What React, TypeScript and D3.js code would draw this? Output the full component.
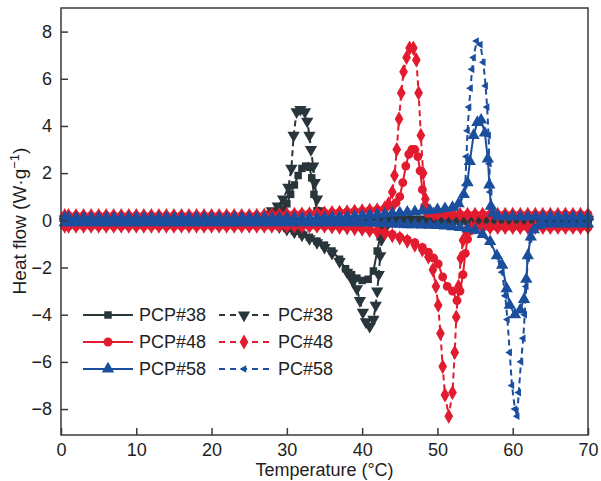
import React, { useEffect, useRef } from 'react';
import * as d3 from 'd3';

type Pt = [number, number];

const xTicks = [0, 10, 20, 30, 40, 50, 60, 70];
const yTicks = [-8, -6, -4, -2, 0, 2, 4, 6, 8];

// PCP#38 / PC#38
const pcp38Cool: Pt[] = [
  [0.5, 0.05], [1, 0.05], [2, 0.05], [3, 0.05], [4, 0.05], [5, 0.05], [6, 0.05], [7, 0.05], [8, 0.05], [9, 0.05],
  [10, 0.05], [11, 0.05], [12, 0.05], [13, 0.05], [14, 0.05], [15, 0.05], [16, 0.05], [17, 0.05], [18, 0.05], [19, 0.05],
  [20, 0.05], [21, 0.05], [22, 0.05], [23, 0.05], [24, 0.05], [25, 0.06], [26, 0.08], [27, 0.1], [28, 0.16], [28.5, 0.22],
  [29, 0.3], [29.5, 0.45], [30, 0.7], [30.5, 1.1], [31, 1.5], [31.5, 1.9], [32, 2.2], [32.5, 2.3], [33, 2.25], [33.3, 1.8],
  [33.6, 1.1], [34, 0.4], [34.5, 0.15], [35, 0.08], [36, 0.04], [37, 0.04], [38, 0.04], [39, 0.04], [40, 0.04], [41, 0.04],
  [42, 0.04], [43, 0.04], [44, 0.04], [45, 0.04], [46, 0.04], [47, 0.04], [48, 0.04], [49, 0.04], [50, 0.04], [51, 0.04],
  [52, 0.04], [53, 0.04], [54, 0.04], [55, 0.04], [56, 0.04], [57, 0.04], [58, 0.04], [59, 0.04], [60, 0.04], [61, 0.04],
  [62, 0.04], [63, 0.04], [64, 0.04], [65, 0.04], [66, 0.04], [67, 0.04], [68, 0.04], [69, 0.04], [70, 0.04],
];
const pc38Cool: Pt[] = [
  [0.5, 0.05], [1, 0.05], [2, 0.05], [3, 0.05], [4, 0.05], [5, 0.05], [6, 0.05], [7, 0.05], [8, 0.05], [9, 0.05],
  [10, 0.05], [11, 0.05], [12, 0.05], [13, 0.05], [14, 0.05], [15, 0.05], [16, 0.05], [17, 0.05], [18, 0.05], [19, 0.05],
  [20, 0.05], [21, 0.05], [22, 0.05], [23, 0.05], [24, 0.05], [25, 0.07], [26, 0.1], [27, 0.15], [27.5, 0.25], [28, 0.4],
  [28.8, 0.6], [29.5, 0.9], [30.2, 1.4], [30.6, 2.2], [30.9, 3.6], [31.3, 4.6], [31.8, 4.7], [32.4, 4.6], [32.7, 4.2], [33, 3.6],
  [33.2, 3.0], [33.5, 2.3], [33.7, 1.6], [34, 0.9], [34.3, 0.4], [34.7, 0.15], [35.5, 0.08], [36, 0.04], [37, 0.04], [38, 0.04],
  [39, 0.04], [40, 0.04], [41, 0.04], [42, 0.04], [43, 0.04], [44, 0.04], [45, 0.04], [46, 0.04], [47, 0.04], [48, 0.04],
  [49, 0.04], [50, 0.04], [51, 0.04], [52, 0.04], [53, 0.04], [54, 0.04], [55, 0.04], [56, 0.04], [57, 0.04], [58, 0.04],
  [59, 0.04], [60, 0.04], [61, 0.04], [62, 0.04], [63, 0.04], [64, 0.04], [65, 0.04], [66, 0.04], [67, 0.04], [68, 0.04],
  [69, 0.04], [70, 0.04],
];
const pcp38Heat: Pt[] = [
  [0.5, -0.05], [1, -0.05], [2, -0.05], [3, -0.05], [4, -0.05], [5, -0.05], [6, -0.05], [7, -0.05], [8, -0.05], [9, -0.05],
  [10, -0.05], [11, -0.05], [12, -0.05], [13, -0.05], [14, -0.05], [15, -0.05], [16, -0.05], [17, -0.05], [18, -0.05], [19, -0.05],
  [20, -0.05], [21, -0.05], [22, -0.05], [23, -0.05], [24, -0.05], [25, -0.08], [26, -0.1], [27, -0.14], [28, -0.19], [29, -0.26],
  [30, -0.35], [31, -0.46], [32, -0.58], [33, -0.72], [34, -0.88], [35, -1.05], [36, -1.3], [37, -1.65], [37.8, -2.05], [38.6, -2.3],
  [39.3, -2.45], [40, -2.55], [40.8, -2.5], [41.5, -2.15], [42, -1.3], [42.4, -0.7], [42.8, -0.35], [43.3, -0.15], [44, -0.05], [45, -0.05],
  [46, -0.05], [47, -0.05], [48, -0.05], [49, -0.05], [50, -0.05], [51, -0.05], [52, -0.05], [53, -0.05], [54, -0.05], [55, -0.05],
  [56, -0.05], [57, -0.05], [58, -0.05], [59, -0.05], [60, -0.05], [61, -0.05], [62, -0.05], [63, -0.05], [64, -0.05], [65, -0.05],
  [66, -0.05], [67, -0.05], [68, -0.05], [69, -0.05], [70, -0.05],
];
const pc38Heat: Pt[] = [
  [0.5, -0.05], [1, -0.05], [2, -0.05], [3, -0.05], [4, -0.05], [5, -0.05], [6, -0.05], [7, -0.05], [8, -0.05], [9, -0.05],
  [10, -0.05], [11, -0.05], [12, -0.05], [13, -0.05], [14, -0.05], [15, -0.05], [16, -0.05], [17, -0.05], [18, -0.05], [19, -0.05],
  [20, -0.05], [21, -0.05], [22, -0.05], [23, -0.05], [24, -0.05], [25, -0.08], [26, -0.11], [27, -0.15], [28, -0.2], [29, -0.28],
  [30, -0.38], [31, -0.5], [32, -0.63], [33, -0.78], [34, -0.95], [35, -1.15], [36, -1.4], [37, -1.75], [38, -2.2], [38.8, -2.6],
  [39.3, -2.9], [39.7, -3.4], [40.1, -3.9], [40.5, -4.3], [41, -4.5], [41.5, -4.2], [41.8, -3.6], [42, -3.0], [42.2, -2.3], [42.4, -1.5],
  [42.6, -0.8], [42.9, -0.4], [43.4, -0.15], [44, -0.05], [45, -0.05], [46, -0.05], [47, -0.05], [48, -0.05], [49, -0.05], [50, -0.05],
  [51, -0.05], [52, -0.05], [53, -0.05], [54, -0.05], [55, -0.05], [56, -0.05], [57, -0.05], [58, -0.05], [59, -0.05], [60, -0.05],
  [61, -0.05], [62, -0.05], [63, -0.05], [64, -0.05], [65, -0.05], [66, -0.05], [67, -0.05], [68, -0.05], [69, -0.05], [70, -0.05],
];

// PCP#48 / PC#48
const pcp48Cool: Pt[] = [
  [0.5, 0.2], [1, 0.2], [2, 0.2], [3, 0.2], [4, 0.2], [5, 0.2], [6, 0.2], [7, 0.2], [8, 0.2], [9, 0.2],
  [10, 0.2], [11, 0.2], [12, 0.2], [13, 0.2], [14, 0.2], [15, 0.2], [16, 0.2], [17, 0.2], [18, 0.2], [19, 0.2],
  [20, 0.2], [21, 0.2], [22, 0.2], [23, 0.2], [24, 0.2], [25, 0.2], [26, 0.21], [27, 0.22], [28, 0.23], [29, 0.24],
  [30, 0.25], [31, 0.26], [32, 0.27], [33, 0.28], [34, 0.3], [35, 0.31], [36, 0.33], [37, 0.34], [38, 0.36], [39, 0.38],
  [40, 0.4], [41, 0.42], [42, 0.45], [43, 0.5], [44, 0.6], [44.5, 0.75], [45, 1.0], [45.4, 1.6], [45.8, 2.3], [46.2, 2.8],
  [46.6, 3.0], [47, 3.0], [47.4, 2.7], [47.7, 2.1], [48, 1.3], [48.3, 0.6], [48.7, 0.3], [49.5, 0.25], [50, 0.25], [51, 0.25],
  [52, 0.25], [53, 0.25], [54, 0.25], [55, 0.25], [56, 0.25], [57, 0.25], [58, 0.25], [59, 0.25], [60, 0.25], [61, 0.25],
  [62, 0.25], [63, 0.25], [64, 0.25], [65, 0.25], [66, 0.25], [67, 0.25], [68, 0.25], [69, 0.25], [70, 0.25],
];
const pc48Cool: Pt[] = [
  [0.5, 0.2], [1, 0.2], [2, 0.2], [3, 0.2], [4, 0.2], [5, 0.2], [6, 0.2], [7, 0.2], [8, 0.2], [9, 0.2],
  [10, 0.2], [11, 0.2], [12, 0.2], [13, 0.2], [14, 0.2], [15, 0.2], [16, 0.2], [17, 0.2], [18, 0.2], [19, 0.2],
  [20, 0.2], [21, 0.2], [22, 0.2], [23, 0.2], [24, 0.2], [25, 0.2], [26, 0.21], [27, 0.22], [28, 0.23], [29, 0.24],
  [30, 0.25], [31, 0.26], [32, 0.27], [33, 0.28], [34, 0.3], [35, 0.31], [36, 0.33], [37, 0.34], [38, 0.36], [39, 0.38],
  [40, 0.4], [41, 0.42], [42, 0.45], [43, 0.52], [43.5, 0.7], [44, 1.2], [44.3, 1.9], [44.6, 3.0], [44.9, 4.3], [45.2, 5.4],
  [45.5, 6.3], [45.9, 6.9], [46.3, 7.3], [46.8, 7.3], [47.2, 6.8], [47.5, 5.4], [47.8, 3.6], [48.1, 2.0], [48.4, 0.9], [48.8, 0.4],
  [49.5, 0.27], [50, 0.25], [51, 0.25], [52, 0.25], [53, 0.25], [54, 0.25], [55, 0.25], [56, 0.25], [57, 0.25], [58, 0.25],
  [59, 0.25], [60, 0.25], [61, 0.25], [62, 0.25], [63, 0.25], [64, 0.25], [65, 0.25], [66, 0.25], [67, 0.25], [68, 0.25],
  [69, 0.25], [70, 0.25],
];
const pcp48Heat: Pt[] = [
  [0.5, -0.25], [1, -0.25], [2, -0.25], [3, -0.25], [4, -0.25], [5, -0.25], [6, -0.25], [7, -0.25], [8, -0.25], [9, -0.25],
  [10, -0.25], [11, -0.25], [12, -0.25], [13, -0.25], [14, -0.25], [15, -0.25], [16, -0.25], [17, -0.25], [18, -0.25], [19, -0.25],
  [20, -0.25], [21, -0.25], [22, -0.25], [23, -0.25], [24, -0.25], [25, -0.25], [26, -0.25], [27, -0.25], [28, -0.25], [29, -0.25],
  [30, -0.25], [31, -0.25], [32, -0.25], [33, -0.25], [34, -0.25], [35, -0.25], [36, -0.27], [37, -0.28], [38, -0.3], [39, -0.32],
  [40, -0.35], [41, -0.4], [42, -0.45], [43, -0.52], [44, -0.6], [45, -0.7], [46, -0.82], [47, -0.95], [48, -1.15], [48.8, -1.35],
  [49.5, -1.6], [50.1, -1.85], [50.7, -2.4], [51.3, -2.8], [52, -3.0], [52.6, -3.4], [53, -3.0], [53.4, -2.3], [53.7, -1.4], [54, -0.8],
  [54.4, -0.45], [55, -0.32], [56, -0.3], [57, -0.3], [58, -0.3], [59, -0.3], [60, -0.3], [61, -0.3], [62, -0.3], [63, -0.3],
  [64, -0.3], [65, -0.3], [66, -0.3], [67, -0.3], [68, -0.3], [69, -0.3], [70, -0.3],
];
const pc48Heat: Pt[] = [
  [0.5, -0.25], [1, -0.25], [2, -0.25], [3, -0.25], [4, -0.25], [5, -0.25], [6, -0.25], [7, -0.25], [8, -0.25], [9, -0.25],
  [10, -0.25], [11, -0.25], [12, -0.25], [13, -0.25], [14, -0.25], [15, -0.25], [16, -0.25], [17, -0.25], [18, -0.25], [19, -0.25],
  [20, -0.25], [21, -0.25], [22, -0.25], [23, -0.25], [24, -0.25], [25, -0.25], [26, -0.25], [27, -0.25], [28, -0.25], [29, -0.25],
  [30, -0.25], [31, -0.25], [32, -0.25], [33, -0.25], [34, -0.25], [35, -0.25], [36, -0.28], [37, -0.3], [38, -0.32], [39, -0.35],
  [40, -0.38], [41, -0.43], [42, -0.48], [43, -0.55], [44, -0.65], [45, -0.75], [46, -0.88], [47, -1.05], [48, -1.25], [48.8, -1.55],
  [49.4, -2.1], [49.8, -2.8], [50.1, -3.6], [50.4, -4.8], [50.7, -6.2], [51, -7.4], [51.5, -8.3], [52, -7.3], [52.3, -5.6], [52.5, -4.1],
  [52.8, -2.8], [53.1, -1.6], [53.4, -0.85], [53.8, -0.45], [54.5, -0.32], [55, -0.3], [56, -0.3], [57, -0.3], [58, -0.3], [59, -0.3],
  [60, -0.3], [61, -0.3], [62, -0.3], [63, -0.3], [64, -0.3], [65, -0.3], [66, -0.3], [67, -0.3], [68, -0.3], [69, -0.3],
  [70, -0.3],
];

// PCP#58 / PC#58
const pcp58Cool: Pt[] = [
  [0.5, 0.1], [1, 0.1], [2, 0.1], [3, 0.1], [4, 0.1], [5, 0.1], [6, 0.1], [7, 0.1], [8, 0.1], [9, 0.1],
  [10, 0.1], [11, 0.1], [12, 0.1], [13, 0.1], [14, 0.1], [15, 0.1], [16, 0.1], [17, 0.1], [18, 0.1], [19, 0.1],
  [20, 0.1], [21, 0.1], [22, 0.1], [23, 0.1], [24, 0.1], [25, 0.1], [26, 0.1], [27, 0.1], [28, 0.1], [29, 0.1],
  [30, 0.1], [31, 0.1], [32, 0.1], [33, 0.1], [34, 0.1], [35, 0.1], [36, 0.12], [37, 0.13], [38, 0.15], [39, 0.17],
  [40, 0.2], [41, 0.22], [42, 0.25], [43, 0.27], [44, 0.3], [45, 0.32], [46, 0.35], [47, 0.37], [48, 0.4], [49, 0.42],
  [50, 0.45], [51, 0.5], [52, 0.55], [52.8, 0.7], [53.5, 1.1], [54, 1.6], [54.3, 2.5], [54.8, 3.6], [55.3, 4.15], [55.8, 4.25],
  [56.3, 3.7], [56.7, 2.6], [56.9, 1.5], [57.1, 0.6], [57.4, 0.3], [58, 0.18], [59, 0.15], [60, 0.15], [61, 0.15], [62, 0.15],
  [63, 0.15], [64, 0.15], [65, 0.15], [66, 0.15], [67, 0.15], [68, 0.15], [69, 0.15], [70, 0.15],
];
const pc58Cool: Pt[] = [
  [0.5, 0.1], [1, 0.1], [2, 0.1], [3, 0.1], [4, 0.1], [5, 0.1], [6, 0.1], [7, 0.1], [8, 0.1], [9, 0.1],
  [10, 0.1], [11, 0.1], [12, 0.1], [13, 0.1], [14, 0.1], [15, 0.1], [16, 0.1], [17, 0.1], [18, 0.1], [19, 0.1],
  [20, 0.1], [21, 0.1], [22, 0.1], [23, 0.1], [24, 0.1], [25, 0.1], [26, 0.1], [27, 0.1], [28, 0.1], [29, 0.1],
  [30, 0.1], [31, 0.1], [32, 0.1], [33, 0.1], [34, 0.1], [35, 0.1], [36, 0.12], [37, 0.13], [38, 0.15], [39, 0.17],
  [40, 0.2], [41, 0.22], [42, 0.25], [43, 0.27], [44, 0.3], [45, 0.32], [46, 0.35], [47, 0.37], [48, 0.4], [49, 0.42],
  [50, 0.45], [51, 0.5], [52, 0.55], [52.5, 0.6], [53, 0.75], [53.5, 1.1], [53.7, 1.5], [53.85, 2.7], [54, 3.8], [54.2, 4.8],
  [54.4, 5.6], [54.6, 6.4], [54.8, 6.9], [55.2, 7.6], [55.7, 7.45], [56.1, 6.7], [56.4, 5.7], [56.6, 4.8], [56.8, 3.6], [56.9, 2.4],
  [57, 1.2], [57.2, 0.5], [57.6, 0.25], [58, 0.15], [59, 0.15], [60, 0.15], [61, 0.15], [62, 0.15], [63, 0.15], [64, 0.15],
  [65, 0.15], [66, 0.15], [67, 0.15], [68, 0.15], [69, 0.15], [70, 0.15],
];
const pcp58Heat: Pt[] = [
  [0.5, -0.1], [1, -0.1], [2, -0.1], [3, -0.1], [4, -0.1], [5, -0.1], [6, -0.1], [7, -0.1], [8, -0.1], [9, -0.1],
  [10, -0.1], [11, -0.1], [12, -0.1], [13, -0.1], [14, -0.1], [15, -0.1], [16, -0.1], [17, -0.1], [18, -0.1], [19, -0.1],
  [20, -0.1], [21, -0.1], [22, -0.1], [23, -0.1], [24, -0.1], [25, -0.1], [26, -0.1], [27, -0.1], [28, -0.1], [29, -0.1],
  [30, -0.1], [31, -0.1], [32, -0.1], [33, -0.1], [34, -0.1], [35, -0.1], [36, -0.1], [37, -0.1], [38, -0.1], [39, -0.1],
  [40, -0.1], [41, -0.11], [42, -0.12], [43, -0.13], [44, -0.15], [45, -0.16], [46, -0.18], [47, -0.19], [48, -0.2], [49, -0.21],
  [50, -0.22], [51, -0.24], [52, -0.27], [53, -0.3], [54, -0.35], [55, -0.42], [56, -0.6], [57, -0.9], [57.9, -1.5], [58.6, -1.9],
  [59.2, -2.9], [59.6, -3.6], [60.3, -4.0], [61, -3.8], [61.5, -3.35], [61.8, -2.5], [62, -1.5], [62.4, -0.7], [62.8, -0.4], [63.5, -0.22],
  [64, -0.15], [65, -0.15], [66, -0.15], [67, -0.15], [68, -0.15], [69, -0.15], [70, -0.15],
];
const pc58Heat: Pt[] = [
  [0.5, -0.1], [1, -0.1], [2, -0.1], [3, -0.1], [4, -0.1], [5, -0.1], [6, -0.1], [7, -0.1], [8, -0.1], [9, -0.1],
  [10, -0.1], [11, -0.1], [12, -0.1], [13, -0.1], [14, -0.1], [15, -0.1], [16, -0.1], [17, -0.1], [18, -0.1], [19, -0.1],
  [20, -0.1], [21, -0.1], [22, -0.1], [23, -0.1], [24, -0.1], [25, -0.1], [26, -0.1], [27, -0.1], [28, -0.1], [29, -0.1],
  [30, -0.1], [31, -0.1], [32, -0.1], [33, -0.1], [34, -0.1], [35, -0.1], [36, -0.1], [37, -0.1], [38, -0.1], [39, -0.1],
  [40, -0.1], [41, -0.11], [42, -0.12], [43, -0.13], [44, -0.15], [45, -0.16], [46, -0.18], [47, -0.19], [48, -0.2], [49, -0.21],
  [50, -0.22], [51, -0.24], [52, -0.27], [53, -0.3], [54, -0.35], [55, -0.42], [56, -0.62], [57, -0.95], [57.9, -1.55], [58.6, -2.2],
  [59, -3.2], [59.3, -4.2], [59.6, -5.6], [59.9, -7.0], [60.3, -8.0], [60.6, -8.3], [60.8, -7.3], [61.1, -6.0], [61.4, -5.0], [61.6, -4.0],
  [61.8, -2.8], [62, -1.6], [62.3, -0.8], [62.7, -0.4], [63.5, -0.2], [64, -0.15], [65, -0.15], [66, -0.15], [67, -0.15], [68, -0.15],
  [69, -0.15], [70, -0.15],
];

const DARK = '#28353a';
const RED = '#e31b2f';
const BLUE = '#1b4e9d';

type Marker = 'square' | 'circle' | 'triUp' | 'triDown' | 'diamond' | 'arrowLeft';

// legend order (row by row)
const series: { name: string; color: string; dashed: boolean; marker: Marker; branches: Pt[][] }[] = [
  { name: 'PCP#38', color: DARK, dashed: false, marker: 'square', branches: [pcp38Cool, pcp38Heat] },
  { name: 'PC#38', color: DARK, dashed: true, marker: 'triDown', branches: [pc38Cool, pc38Heat] },
  { name: 'PCP#48', color: RED, dashed: false, marker: 'circle', branches: [pcp48Cool, pcp48Heat] },
  { name: 'PC#48', color: RED, dashed: true, marker: 'diamond', branches: [pc48Cool, pc48Heat] },
  { name: 'PCP#58', color: BLUE, dashed: false, marker: 'triUp', branches: [pcp58Cool, pcp58Heat] },
  { name: 'PC#58', color: BLUE, dashed: true, marker: 'arrowLeft', branches: [pc58Cool, pc58Heat] },
];
// drawing order: dark, red dashed under red solid, blue dashed under blue solid
const drawOrder = [1, 0, 3, 2, 5, 4];

const markerPath = (m: Marker) => {
  const sym = d3.symbol();
  switch (m) {
    case 'square': return { d: sym.type(d3.symbolSquare).size(56)(), rot: 0 };
    case 'circle': return { d: sym.type(d3.symbolCircle).size(62)(), rot: 0 };
    case 'triUp': return { d: sym.type(d3.symbolTriangle).size(66)(), rot: 0 };
    case 'triDown': return { d: sym.type(d3.symbolTriangle).size(66)(), rot: 180 };
    case 'diamond': return { d: sym.type(d3.symbolDiamond).size(66)(), rot: 0 };
    case 'arrowLeft': return { d: sym.type(d3.symbolTriangle).size(26)(), rot: -90 };
  }
};

const width = 601;
const height = 481;
const plot = { left: 61, right: 588, top: 8, bottom: 435 };
const FONT = '"Liberation Sans", Arial, sans-serif';
const INK = '#1e1e1e';

const App = () => {
  const ref = useRef<SVGGElement>(null);

  useEffect(() => {
    const g = d3.select(ref.current);
    g.selectAll('*').remove();

    const x = d3.scaleLinear().domain([0, 70]).range([plot.left, plot.right]);
    const y = d3.scaleLinear().domain([-9.1, 9.0]).range([plot.bottom, plot.top]);

    const line = d3
      .line<Pt>()
      .x((d) => x(d[0]))
      .y((d) => y(d[1]));

    // curves
    drawOrder.forEach((i) => {
      const s = series[i];
      const mk = markerPath(s.marker);
      s.branches.forEach((b) => {
        g.append('path')
          .attr('d', line(b))
          .attr('fill', 'none')
          .attr('stroke', s.color)
          .attr('stroke-width', 2)
          .attr('stroke-dasharray', s.dashed ? '6,4' : null);
        g.append('g')
          .selectAll('path')
          .data(b)
          .join('path')
          .attr('d', mk.d)
          .attr('transform', (d) => `translate(${x(d[0])},${y(d[1])}) rotate(${mk.rot})`)
          .attr('fill', s.color);
      });
    });

    // frame
    g.append('rect')
      .attr('x', plot.left)
      .attr('y', plot.top)
      .attr('width', plot.right - plot.left)
      .attr('height', plot.bottom - plot.top)
      .attr('fill', 'none')
      .attr('stroke', '#3a3a3a')
      .attr('stroke-width', 1.5);

    // axes, ticks inward
    const xAxis = g
      .append('g')
      .attr('transform', `translate(0,${plot.bottom})`)
      .call(d3.axisBottom(x).tickValues(xTicks).tickSize(-7).tickSizeOuter(0).tickPadding(8).tickFormat(d3.format('d')));
    const yAxis = g
      .append('g')
      .attr('transform', `translate(${plot.left},0)`)
      .call(d3.axisLeft(y).tickValues(yTicks).tickSize(-7).tickSizeOuter(0).tickPadding(9));
    [xAxis, yAxis].forEach((a) => {
      a.select('.domain').remove();
      a.selectAll('.tick line').attr('stroke', '#3a3a3a').attr('stroke-width', 1.5);
      a.selectAll('.tick text').attr('fill', INK).style('font-size', '18px').style('font-family', FONT);
    });

    // axis titles
    g.append('text')
      .attr('x', (plot.left + plot.right) / 2)
      .attr('y', 476)
      .attr('text-anchor', 'middle')
      .attr('fill', INK)
      .style('font-size', '18px')
      .style('font-family', FONT)
      .text('Temperature (°C)');

    const yt = g
      .append('text')
      .attr('transform', 'rotate(-90)')
      .attr('x', -221)
      .attr('y', 26)
      .attr('text-anchor', 'middle')
      .attr('fill', INK)
      .style('font-size', '19px')
      .style('font-family', FONT);
    yt.append('tspan').text('Heat flow (W·g');
    yt.append('tspan').attr('dy', -7).style('font-size', '13px').text('−1');
    yt.append('tspan').attr('dy', 7).text(')');

    // legend
    const rows = [315, 342, 369];
    const cols = [
      { x0: 83, x1: 133, tx: 139 },
      { x0: 219, x1: 269, tx: 278 },
    ];
    series.forEach((s, i) => {
      const row = rows[Math.floor(i / 2)];
      const c = cols[i % 2];
      const mk = markerPath(s.marker);
      const lg = g.append('g');
      lg.append('line')
        .attr('x1', c.x0)
        .attr('x2', c.x1)
        .attr('y1', row)
        .attr('y2', row)
        .attr('stroke', s.color)
        .attr('stroke-width', 2)
        .attr('stroke-dasharray', s.dashed ? '6,5' : null);
      lg.append('path')
        .attr('d', mk.d)
        .attr('transform', `translate(${(c.x0 + c.x1) / 2},${row}) rotate(${mk.rot})`)
        .attr('fill', s.color);
      lg.append('text')
        .attr('x', c.tx)
        .attr('y', row)
        .attr('dy', '0.36em')
        .attr('fill', INK)
        .style('font-size', '18px')
        .style('font-family', FONT)
        .text(s.name);
    });
  }, []);

  return (
    <svg width={width} height={height} style={{ position: 'absolute', left: 0, top: 0, background: '#fff' }}>
      <g ref={ref} />
    </svg>
  );
};

export default App;
